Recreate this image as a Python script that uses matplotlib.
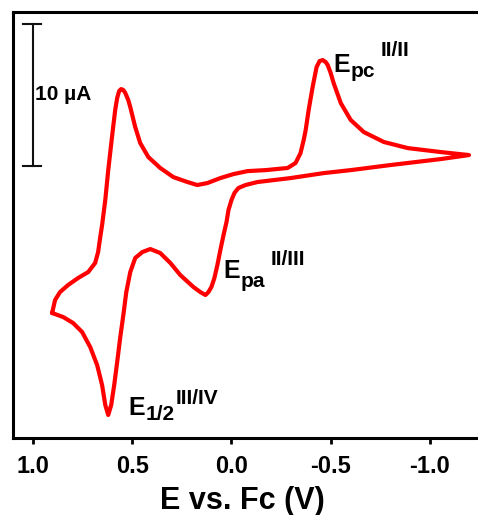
import matplotlib
matplotlib.use("Agg")
import matplotlib.pyplot as plt

plt.rcParams['font.family'] = ['Liberation Sans', 'DejaVu Sans']
plt.rcParams['font.weight'] = 'bold'
plt.rcParams['axes.unicode_minus'] = False

# cyclic voltammogram, potential (V vs Fc) and current (uA)
# forward sweep: +0.9 V -> -1.2 V
e_fwd = [0.904, 0.889, 0.864, 0.823, 0.773, 0.722, 0.687, 0.672, 0.662, 0.652,
         0.636, 0.621, 0.601, 0.586, 0.576, 0.566, 0.556, 0.545, 0.535, 0.520,
         0.510, 0.485, 0.460, 0.419, 0.359, 0.293, 0.222, 0.172, 0.121, 0.056,
         -0.010, -0.081, -0.172, -0.283, -0.323, -0.348, -0.364, -0.374, -0.389,
         -0.409, -0.429, -0.444, -0.460, -0.475, -0.485, -0.500, -0.515, -0.551,
         -0.601, -0.667, -0.768, -0.889, -1.056, -1.197]
i_fwd = [-0.92, 0.00, 0.56, 1.06, 1.55, 1.97, 2.61, 3.38, 4.37, 5.28,
         7.04, 9.15, 11.62, 13.38, 14.23, 14.72, 14.86, 14.79, 14.58, 14.08,
         13.59, 12.18, 11.06, 10.07, 9.30, 8.66, 8.31, 8.10, 8.24, 8.59,
         8.87, 9.08, 9.15, 9.30, 9.65, 10.35, 11.27, 11.97, 13.38,
         15.00, 16.41, 16.83, 16.90, 16.76, 16.55, 15.99, 15.28, 13.87,
         12.68, 11.83, 11.13, 10.70, 10.42, 10.21]
# reverse sweep: -1.2 V -> +0.9 V
e_rev = [-1.056, -0.803, -0.601, -0.465, -0.298, -0.131, -0.071, -0.035, -0.015,
         0.000, 0.015, 0.025, 0.040, 0.056, 0.071, 0.086, 0.101, 0.116, 0.131,
         0.157, 0.192, 0.258, 0.308, 0.359, 0.409, 0.449, 0.485, 0.510, 0.530,
         0.545, 0.561, 0.576, 0.591, 0.606, 0.621, 0.636, 0.652, 0.677, 0.712,
         0.753, 0.798, 0.848, 0.889, 0.904]
i_rev = [9.93, 9.51, 9.15, 8.94, 8.59, 8.31, 8.10, 7.89, 7.54,
         7.04, 6.34, 5.49, 4.58, 3.52, 2.46, 1.55, 0.92, 0.56, 0.35,
         0.56, 0.92, 1.76, 2.61, 3.31, 3.59, 3.38, 2.96, 1.97, 0.56,
         -1.06, -2.68, -4.37, -5.99, -7.39, -8.10, -7.39, -5.99, -4.58, -3.31,
         -2.25, -1.62, -1.20, -0.99, -0.92]

xticks = [1.0, 0.5, 0.0, -0.5, -1.0]
xticklabels = ['1.0', '0.5', '0.0', '-0.5', '-1.0']

# 10 uA scale bar
bar_x = 1.0
bar_top = 19.44
bar_len = 10.0

fig = plt.figure(figsize=(4.78, 5.15), dpi=100)
ax = fig.add_axes([0.0272, 0.1495, 1.0, 0.827])

ax.plot(e_fwd + e_rev, i_fwd + i_rev, color='#ff0000', lw=3,
        solid_joinstyle='round', solid_capstyle='round')

# scale bar
ax.plot([bar_x, bar_x], [bar_top, bar_top - bar_len], color='#111111', lw=1.5)
for yy in [bar_top, bar_top - bar_len]:
    ax.plot([bar_x + 0.05, bar_x - 0.04], [yy, yy], color='#111111', lw=1.5)
ax.text(0.99, 14.08, '10 \u00b5A', fontsize=15, fontweight='bold', ha='left', va='baseline')


def peak_label(x, y, sub, sup, sub_dy=0, sup_dx=3.5, sup_dy=-2):
    t = ax.text(x, y, 'E', fontsize=18, fontweight='bold', ha='left', va='baseline')
    s = ax.annotate(sub, xy=(1, 0), xycoords=t, xytext=(0.5, sub_dy),
                    textcoords='offset points', fontsize=15, fontweight='bold',
                    ha='left', va='baseline')
    ax.annotate(sup, xy=(1, 1), xycoords=(s, t), xytext=(sup_dx, sup_dy),
                textcoords='offset points', fontsize=15, fontweight='bold',
                ha='left', va='baseline')


peak_label(-0.515, 16.06, 'pc', 'II/II', sup_dy=-2.2)
peak_label(0.040, 1.55, 'pa', 'II/III', sub_dy=-3, sup_dy=-4.6)
peak_label(0.520, -8.10, '1/2', 'III/IV', sup_dx=1, sup_dy=-5.8)

ax.set_xlim(1.101, -1.308)
ax.set_ylim(-9.72, 20.28)
ax.set_xticks(xticks)
ax.set_xticklabels(xticklabels)
ax.set_yticks([])
ax.tick_params(axis='x', direction='out', length=4, width=2, pad=8, labelsize=17)
for side in ['left', 'top', 'bottom']:
    ax.spines[side].set_linewidth(2.2)
ax.spines['right'].set_visible(False)

ax.set_xlabel('E vs. Fc (V)', fontsize=22, fontweight='bold')
ax.xaxis.set_label_coords(0.48, -0.112)

fig.savefig('out.png', dpi=100)
